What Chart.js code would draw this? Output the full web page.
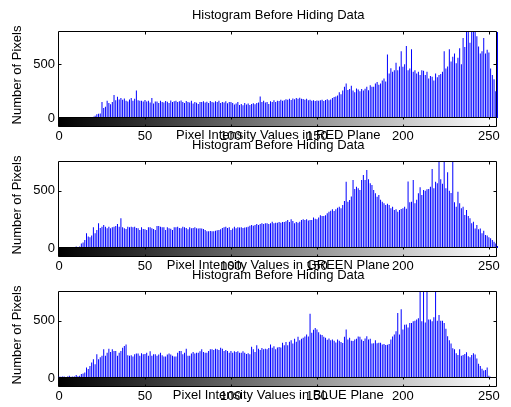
<!DOCTYPE html>
<html>
<head>
<meta charset="utf-8">
<script src="https://cdn.jsdelivr.net/npm/chart.js@4/dist/chart.umd.min.js"></script>
<style>
  html, body { margin: 0; padding: 0; background: #fff; }
  #wrap { position: relative; width: 511px; height: 407px; overflow: hidden; }
  .panel { position: absolute; left: 0; }
</style>
</head>
<body>
<div id="wrap">
  <canvas class="panel" id="hist-red" width="511" height="143" style="top:0px"></canvas>
  <canvas class="panel" id="hist-green" width="511" height="143" style="top:130px"></canvas>
  <canvas class="panel" id="hist-blue" width="511" height="143" style="top:260px"></canvas>
</div>
<script>
// bins 0..255 (pixel intensities)
const bins = Array.from({ length: 256 }, (_, i) => i);
const xTickValues = [0, 50, 100, 150, 200, 250];
const yTickValues = [0, 500];
const panelTitle = 'Histogram Before Hiding Data';
const yTitle = 'Number of Pixels';
const xTitles = ['Pixel Intensity Values in RED Plane', 'Pixel Intensity Values in GREEN Plane', 'Pixel Intensity Values in BLUE Plane'];
const yMaxes = [800, 750, 750];

const redCounts = [
  0, 0, 0, 0, 0, 0, 0, 0, 0, 0,
  0, 0, 0, 0, 0, 0, 0, 2, 5, 8,
  12, 20, 35, 40, 42, 150, 92, 105, 160, 140,
  128, 150, 215, 165, 198, 172, 185, 170, 182, 160,
  154, 172, 185, 160, 178, 255, 166, 160, 160, 154,
  168, 154, 160, 145, 185, 135, 154, 154, 140, 160,
  150, 145, 158, 152, 140, 162, 150, 156, 160, 148,
  155, 162, 150, 140, 158, 150, 145, 160, 135, 150,
  142, 130, 148, 150, 155, 145, 152, 140, 158, 150,
  145, 155, 148, 160, 140, 150, 145, 155, 138, 150,
  148, 140, 125, 135, 150, 120, 130, 118, 140, 125,
  135, 120, 130, 138, 128, 140, 145, 200, 150, 160,
  145, 150, 130, 155, 148, 165, 150, 160, 158, 170,
  160, 165, 175, 170, 178, 168, 182, 175, 185, 178,
  188, 180, 176, 170, 180, 165, 170, 160, 165, 158,
  162, 160, 165, 170, 158, 168, 175, 165, 172, 185,
  195, 200, 210, 240, 220, 255, 290, 320, 260, 270,
  300, 255, 240, 275, 265, 248, 270, 255, 273, 290,
  257, 305, 290, 290, 320, 335, 310, 320, 350, 367,
  340, 590, 415, 462, 430, 445, 515, 445, 480, 620,
  477, 500, 670, 445, 460, 640, 430, 445, 415, 430,
  400, 445, 440, 400, 430, 367, 390, 383, 350, 415,
  380, 400, 410, 430, 620, 460, 480, 640, 525, 570,
  600, 510, 560, 650, 500, 745, 660, 900, 850, 700,
  900, 950, 900, 760, 665, 600, 620, 745, 600, 635,
  610, 460, 400, 360, 250, 1500
];

const greenCounts = [
  2, 1, 3, 2, 1, 2, 3, 2, 4, 6,
  12, 8, 12, 40, 47, 70, 128, 100, 93, 110,
  180, 128, 157, 215, 175, 186, 201, 186, 172, 186,
  172, 180, 186, 192, 209, 186, 259, 180, 172, 165,
  186, 180, 186, 180, 186, 175, 172, 157, 180, 165,
  163, 157, 180, 180, 172, 165, 157, 192, 192, 186,
  180, 180, 157, 180, 172, 168, 157, 180, 180, 186,
  175, 172, 186, 180, 175, 163, 180, 172, 175, 180,
  172, 169, 172, 169, 165, 157, 145, 145, 148, 145,
  145, 151, 155, 157, 163, 174, 180, 186, 175, 180,
  157, 169, 186, 172, 180, 178, 180, 174, 178, 180,
  186, 195, 201, 195, 201, 209, 201, 209, 215, 209,
  215, 215, 209, 215, 230, 215, 221, 221, 227, 221,
  227, 227, 233, 244, 227, 250, 235, 215, 227, 221,
  230, 244, 250, 244, 250, 240, 244, 244, 267, 255,
  250, 267, 285, 279, 280, 285, 302, 317, 325, 337,
  323, 337, 350, 360, 346, 375, 410, 578, 404, 419,
  450, 593, 515, 535, 520, 505, 593, 637, 593, 680,
  600, 564, 549, 506, 477, 448, 462, 420, 404, 390,
  375, 385, 375, 346, 360, 331, 337, 317, 331, 340,
  346, 360, 343, 579, 400, 404, 593, 390, 420, 477,
  529, 462, 506, 500, 512, 515, 535, 690, 520, 578,
  564, 800, 600, 560, 800, 520, 660, 500, 480, 800,
  400, 360, 491, 390, 346, 360, 288, 331, 279, 260,
  215, 230, 171, 200, 163, 171, 128, 150, 113, 110,
  93, 85, 70, 55, 40, 17
];

const blueCounts = [
  14, 10, 12, 14, 8, 14, 20, 10, 14, 12,
  26, 15, 20, 34, 40, 49, 92, 78, 105, 135,
  164, 121, 207, 164, 180, 193, 250, 193, 221, 256,
  227, 250, 236, 236, 193, 221, 236, 264, 280, 293,
  198, 193, 198, 187, 207, 213, 213, 193, 216, 207,
  210, 221, 193, 233, 193, 207, 207, 193, 204, 221,
  198, 187, 187, 204, 213, 204, 193, 187, 187, 221,
  236, 236, 207, 221, 256, 193, 193, 213, 227, 213,
  221, 221, 233, 250, 227, 221, 221, 236, 250, 250,
  244, 256, 250, 244, 264, 256, 236, 244, 236, 221,
  236, 221, 233, 227, 233, 221, 221, 233, 221, 210,
  216, 207, 273, 250, 227, 285, 256, 244, 262, 250,
  256, 250, 262, 293, 264, 276, 250, 267, 270, 267,
  307, 285, 313, 285, 316, 330, 300, 342, 316, 359,
  330, 342, 350, 362, 380, 362, 560, 395, 420, 437,
  422, 400, 380, 376, 359, 350, 333, 345, 330, 336,
  325, 310, 336, 325, 313, 305, 359, 422, 336, 350,
  325, 322, 336, 342, 362, 359, 336, 322, 345, 365,
  336, 342, 300, 302, 330, 302, 307, 307, 293, 296,
  287, 290, 296, 336, 362, 380, 408, 566, 380, 600,
  422, 465, 466, 440, 480, 480, 495, 500, 510, 520,
  800, 495, 800, 485, 800, 510, 510, 495, 530, 800,
  500, 550, 500, 500, 480, 430, 365, 330, 300, 260,
  250, 215, 200, 250, 195, 200, 210, 225, 190, 180,
  200, 215, 205, 170, 125, 105, 80, 65, 70, 92,
  20, 10, 5, 3, 2, 1
];

Chart.defaults.font.family = "'Liberation Sans', Arial, Helvetica, sans-serif";
Chart.defaults.font.size = 13;
Chart.defaults.color = '#000';

// MATLAB style box, inward ticks and the gray colorbar under the axes
const matlabAxes = {
  id: 'matlabAxes',
  beforeDatasetsDraw(chart) {
    const { ctx, chartArea: a, scales: { x, y } } = chart;
    const L = Math.round(a.left) - 0.5, R = Math.round(a.right) - 0.5;
    const T = Math.round(a.top) - 0.5, B = Math.round(a.bottom) - 0.5;
    ctx.save();
    ctx.strokeStyle = '#000';
    ctx.lineWidth = 1;
    ctx.beginPath();
    ctx.rect(L, T, R - L, B - T);
    xTickValues.slice(1).forEach(v => {
      const px = Math.round(x.getPixelForValue(v)) + 0.5;
      ctx.moveTo(px, T); ctx.lineTo(px, T + 3);
    });
    yTickValues.slice(1).forEach(v => {
      const py = Math.round(y.getPixelForValue(v)) + 0.5;
      ctx.moveTo(L, py); ctx.lineTo(L + 3, py);
      ctx.moveTo(R, py); ctx.lineTo(R - 3, py);
    });
    ctx.stroke();
    ctx.restore();
  },
  afterDraw(chart) {
    const { ctx, chartArea: a, scales: { x } } = chart;
    const L = Math.round(a.left) - 0.5, R = Math.round(a.right) - 0.5;
    const top = Math.round(a.bottom) - 0.5, h = 9;
    ctx.save();
    const g = ctx.createLinearGradient(x.getPixelForValue(0), 0, x.getPixelForValue(255), 0);
    g.addColorStop(0, '#000');
    g.addColorStop(1, '#fff');
    ctx.fillStyle = g;
    ctx.fillRect(L, top, R - L, h);
    ctx.strokeStyle = '#000';
    ctx.lineWidth = 1;
    ctx.beginPath();
    ctx.rect(L, top, R - L, h);
    xTickValues.slice(1).forEach(v => {
      const px = Math.round(x.getPixelForValue(v)) + 0.5;
      ctx.moveTo(px, top); ctx.lineTo(px, top + 2);
      ctx.moveTo(px, top + h); ctx.lineTo(px, top + h - 2);
    });
    ctx.stroke();
    ctx.restore();
  }
};

function makeHist(id, counts, yMax, xTitle) {
  return new Chart(document.getElementById(id), {
    type: 'bar',
    data: {
      datasets: [{
        data: bins.map((b, i) => ({ x: b, y: counts[i] })),
        backgroundColor: '#0000ff',
        borderWidth: 0,
        barThickness: 1,
        inflateAmount: 0,
        clip: { left: 1, right: 1, top: 0, bottom: 0 },
      }],
    },
    options: {
      responsive: false,
      animation: false,
      layout: { padding: { left: 0, right: 10, top: 0, bottom: 0 } },
      plugins: { legend: { display: false }, tooltip: { enabled: false }, title: { display: false } },
      scales: {
        x: {
          type: 'linear', position: 'bottom', min: 0, max: 255, offset: false,
          grid: { display: false, drawTicks: false, offset: false },
          border: { display: false },
          afterBuildTicks: s => { s.ticks = xTickValues.map(v => ({ value: v })); },
          ticks: { padding: 11, maxRotation: 0, autoSkip: false },
          title: { display: true, text: xTitle, padding: { top: 0, bottom: 0 } },
          afterFit: s => { s.height = 25; },
        },
        x2: {
          type: 'linear', axis: 'x', position: 'top', min: 0, max: 255, offset: false,
          grid: { display: false, drawTicks: false },
          border: { display: false },
          ticks: { display: false },
          title: { display: true, text: panelTitle, padding: { top: 8, bottom: 0 } },
          afterFit: s => { s.height = 32; },
        },
        y: {
          type: 'linear', min: 0, max: yMax,
          grid: { display: false, drawTicks: false },
          border: { display: false },
          afterBuildTicks: s => { s.ticks = yTickValues.map(v => ({ value: v })); },
          ticks: { padding: 4 },
          title: { display: true, text: yTitle, padding: { top: 10, bottom: 0 } },
          afterFit: s => { s.width = 59; },
        },
      },
    },
    plugins: [matlabAxes],
  });
}

makeHist('hist-red', redCounts, yMaxes[0], xTitles[0]);
makeHist('hist-green', greenCounts, yMaxes[1], xTitles[1]);
makeHist('hist-blue', blueCounts, yMaxes[2], xTitles[2]);
</script>
</body>
</html>
